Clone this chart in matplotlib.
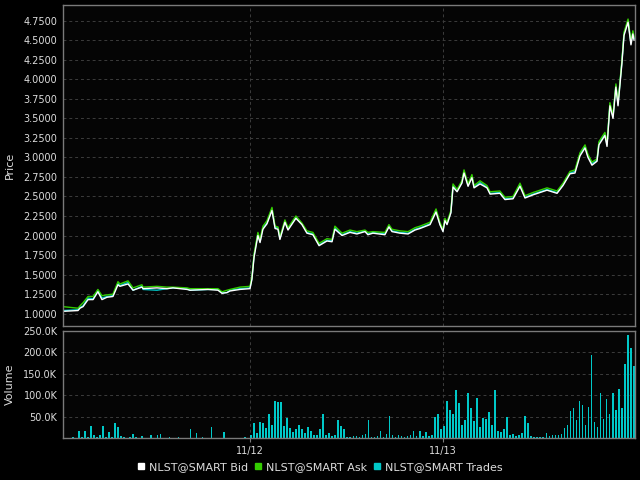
#!/usr/bin/env python3

import numpy as np
import matplotlib

matplotlib.use("Agg")
import matplotlib.pyplot as plt
from matplotlib.lines import Line2D
from matplotlib.ticker import FuncFormatter, FormatStrFormatter


# time in trading days since 11/11 (1.0 = 11/12, 2.0 = 11/13)
PRICE_DAYS = [
    0.031, 0.109, 0.119, 0.135, 0.161, 0.187, 0.212, 0.233, 0.259, 0.290,
    0.316, 0.326, 0.368, 0.394, 0.440, 0.446, 0.518, 0.570, 0.601, 0.674,
    0.689, 0.782, 0.834, 0.855, 0.881, 0.896, 0.948, 1.000, 1.010, 1.021,
    1.041, 1.052, 1.067, 1.088, 1.114, 1.130, 1.145, 1.155, 1.181, 1.197,
    1.238, 1.269, 1.295, 1.326, 1.358, 1.399, 1.425, 1.440, 1.477, 1.518,
    1.554, 1.596, 1.611, 1.637, 1.699, 1.720, 1.736, 1.777, 1.819, 1.855,
    1.881, 1.933, 1.964, 1.984, 2.000, 2.010, 2.021, 2.041, 2.052, 2.073,
    2.098, 2.109, 2.130, 2.150, 2.161, 2.192, 2.228, 2.244, 2.295, 2.321,
    2.363, 2.399, 2.425, 2.466, 2.539, 2.591, 2.622, 2.658, 2.684, 2.710,
    2.736, 2.751, 2.772, 2.798, 2.808, 2.839, 2.850, 2.865, 2.881, 2.896,
    2.907, 2.927, 2.938, 2.959, 2.974, 2.984, 2.990,
]

TRADES = [
    1.04, 1.05, 1.08, 1.10, 1.20, 1.19, 1.30, 1.20, 1.22, 1.23,
    1.39, 1.36, 1.40, 1.30, 1.35, 1.31, 1.30, 1.32, 1.33, 1.32,
    1.30, 1.31, 1.31, 1.27, 1.27, 1.30, 1.32, 1.33, 1.45, 1.74,
    2.02, 1.92, 2.10, 2.16, 2.34, 2.10, 2.10, 1.96, 2.18, 2.08,
    2.23, 2.15, 2.04, 2.02, 1.88, 1.94, 1.93, 2.10, 2.01, 2.05,
    2.03, 2.06, 2.02, 2.04, 2.02, 2.12, 2.06, 2.04, 2.03, 2.08,
    2.10, 2.15, 2.32, 2.15, 2.06, 2.20, 2.15, 2.30, 2.64, 2.57,
    2.68, 2.82, 2.64, 2.76, 2.62, 2.68, 2.62, 2.54, 2.55, 2.47,
    2.48, 2.65, 2.49, 2.53, 2.59, 2.55, 2.65, 2.80, 2.82, 3.04,
    3.14, 3.02, 2.92, 2.96, 3.18, 3.30, 3.16, 3.68, 3.52, 3.92,
    3.68, 4.22, 4.58, 4.75, 4.46, 4.60, 4.52,
]

BID = [
    1.03, 1.04, 1.07, 1.09, 1.18, 1.18, 1.28, 1.18, 1.21, 1.22,
    1.37, 1.35, 1.38, 1.30, 1.34, 1.32, 1.33, 1.32, 1.33, 1.31,
    1.30, 1.31, 1.30, 1.26, 1.27, 1.29, 1.31, 1.32, 1.44, 1.72,
    2.00, 1.91, 2.08, 2.15, 2.32, 2.09, 2.08, 1.95, 2.17, 2.07,
    2.22, 2.14, 2.03, 2.01, 1.87, 1.93, 1.92, 2.08, 2.00, 2.04,
    2.02, 2.05, 2.01, 2.03, 2.01, 2.11, 2.05, 2.03, 2.02, 2.07,
    2.09, 2.14, 2.30, 2.14, 2.05, 2.19, 2.14, 2.29, 2.62, 2.56,
    2.67, 2.80, 2.63, 2.74, 2.61, 2.66, 2.61, 2.53, 2.54, 2.46,
    2.47, 2.63, 2.48, 2.52, 2.58, 2.54, 2.64, 2.79, 2.80, 3.02,
    3.12, 3.00, 2.90, 2.95, 3.16, 3.28, 3.14, 3.66, 3.50, 3.90,
    3.66, 4.20, 4.56, 4.73, 4.44, 4.58, 4.50,
]

ASK = [
    1.09, 1.07, 1.10, 1.14, 1.22, 1.22, 1.31, 1.23, 1.24, 1.25,
    1.41, 1.38, 1.42, 1.33, 1.37, 1.34, 1.35, 1.34, 1.34, 1.33,
    1.32, 1.32, 1.32, 1.28, 1.30, 1.31, 1.34, 1.35, 1.47, 1.76,
    2.04, 1.95, 2.12, 2.19, 2.36, 2.12, 2.11, 1.98, 2.20, 2.10,
    2.25, 2.16, 2.06, 2.04, 1.90, 1.96, 1.95, 2.12, 2.03, 2.07,
    2.05, 2.07, 2.04, 2.05, 2.04, 2.14, 2.08, 2.06, 2.05, 2.10,
    2.12, 2.17, 2.34, 2.17, 2.08, 2.22, 2.17, 2.32, 2.66, 2.59,
    2.70, 2.84, 2.66, 2.78, 2.64, 2.70, 2.64, 2.56, 2.57, 2.49,
    2.50, 2.67, 2.51, 2.55, 2.61, 2.57, 2.67, 2.82, 2.84, 3.06,
    3.16, 3.04, 2.94, 2.98, 3.20, 3.32, 3.18, 3.70, 3.54, 3.94,
    3.70, 4.24, 4.60, 4.77, 4.48, 4.62, 4.54,
]

# volume bars, one every 1/64 of a day starting at 2/64, in thousands
VOLUME_K = [
    0, 0, 1, 3, 1, 17, 2, 17, 3, 29,
    7, 2, 8, 29, 3, 15, 2, 34, 26, 5,
    2, 1, 3, 10, 2, 1, 4, 0, 1, 8,
    1, 6, 10, 1, 0, 2, 0, 0, 2, 0,
    0, 1, 22, 1, 11, 0, 2, 0, 0, 26,
    0, 0, 0, 15, 0, 0, 0, 0, 0, 0,
    2, 1, 6, 34, 12, 38, 35, 23, 55, 30,
    87, 85, 84, 27, 47, 23, 15, 20, 31, 20,
    12, 26, 16, 6, 8, 20, 55, 8, 12, 4,
    6, 41, 27, 22, 3, 2, 5, 4, 3, 6,
    10, 41, 3, 2, 5, 17, 3, 10, 52, 6,
    3, 8, 4, 2, 4, 6, 17, 5, 17, 4,
    15, 5, 8, 48, 55, 20, 27, 86, 66, 55,
    113, 82, 30, 43, 104, 70, 40, 94, 25, 47,
    45, 60, 30, 113, 16, 14, 22, 48, 8, 10,
    5, 8, 12, 51, 35, 4, 3, 2, 3, 2,
    12, 4, 8, 8, 6, 10, 23, 30, 64, 70,
    43, 86, 76, 31, 73, 195, 37, 25, 104, 45,
    92, 55, 105, 66, 115, 70, 172, 240, 211, 168,
    101,
]
VOLUME_START = 2 / 64
VOLUME_STEP = 1 / 64

DAY_TICKS = [1, 2]
DAY_LABELS = ["11/12", "11/13"]
PRICE_TICKS = [1.0, 1.25, 1.5, 1.75, 2.0, 2.25, 2.5, 2.75, 3.0, 3.25, 3.5,
               3.75, 4.0, 4.25, 4.5, 4.75]
VOLUME_TICKS = [50000, 100000, 150000, 200000, 250000]

BID_COLOR = "#ffffff"
ASK_COLOR = "#33cc00"
TRADES_COLOR = "#00c8c8"
TEXT_COLOR = "#dcdcdc"
FRAME_COLOR = "#7a7a7a"
GRID_COLOR = "#3c3c3c"


def style_axes(ax):
    ax.set_facecolor("#050505")
    for spine in ax.spines.values():
        spine.set_color(FRAME_COLOR)
        spine.set_linewidth(1.0)
    ax.tick_params(colors=TEXT_COLOR, labelsize=7, length=0, pad=4)
    ax.grid(True, color=GRID_COLOR, linestyle="--", linewidth=0.7, dashes=(3, 3))
    ax.set_axisbelow(True)


def main():
    fig = plt.figure(figsize=(6.4, 4.8), dpi=100, facecolor="#000000")
    ax_price = fig.add_axes([0.0984, 0.3208, 0.8938, 0.6688])
    ax_vol = fig.add_axes([0.0984, 0.0875, 0.8938, 0.2229], sharex=ax_price)

    style_axes(ax_price)
    style_axes(ax_vol)

    ax_price.plot(PRICE_DAYS, TRADES, color=TRADES_COLOR, linewidth=1.0)
    ax_price.plot(PRICE_DAYS, ASK, color=ASK_COLOR, linewidth=1.0)
    ax_price.plot(PRICE_DAYS, BID, color=BID_COLOR, linewidth=1.0)

    ax_price.set_ylim(0.842, 4.95)
    ax_price.set_yticks(PRICE_TICKS)
    ax_price.yaxis.set_major_formatter(FormatStrFormatter("%.4f"))
    ax_price.set_ylabel("Price", color=TEXT_COLOR, fontsize=8, labelpad=6)
    ax_price.tick_params(axis="x", labelbottom=False)

    vol_days = VOLUME_START + VOLUME_STEP * np.arange(len(VOLUME_K))
    vol = np.array(VOLUME_K) * 1000
    ax_vol.bar(vol_days, vol, width=VOLUME_STEP * 0.55, color=TRADES_COLOR,
               linewidth=0, align="edge")
    ax_vol.set_ylim(0, 250000)
    ax_vol.set_yticks(VOLUME_TICKS)
    ax_vol.yaxis.set_major_formatter(
        FuncFormatter(lambda v, pos: f"{v / 1000:.1f}K"))
    ax_vol.set_ylabel("Volume", color=TEXT_COLOR, fontsize=8, labelpad=6)

    ax_vol.set_xlim(0.031, 2.995)
    ax_vol.set_xticks(DAY_TICKS)
    ax_vol.set_xticklabels(DAY_LABELS)
    ax_vol.tick_params(axis="x", length=3, color=FRAME_COLOR, pad=3)

    handles = [
        Line2D([], [], linestyle="none", marker="s", markersize=4,
               color=c, label=l)
        for c, l in [(BID_COLOR, "NLST@SMART Bid"),
                     (ASK_COLOR, "NLST@SMART Ask"),
                     (TRADES_COLOR, "NLST@SMART Trades")]
    ]
    fig.legend(handles=handles, loc="center", bbox_to_anchor=(0.5, 0.027),
               ncol=3, frameon=False, fontsize=8, labelcolor=TEXT_COLOR,
               handlelength=0.6, handletextpad=0.4, columnspacing=0.6)

    fig.savefig("out.png", dpi=100, facecolor=fig.get_facecolor())
    plt.close(fig)


if __name__ == "__main__":
    main()
